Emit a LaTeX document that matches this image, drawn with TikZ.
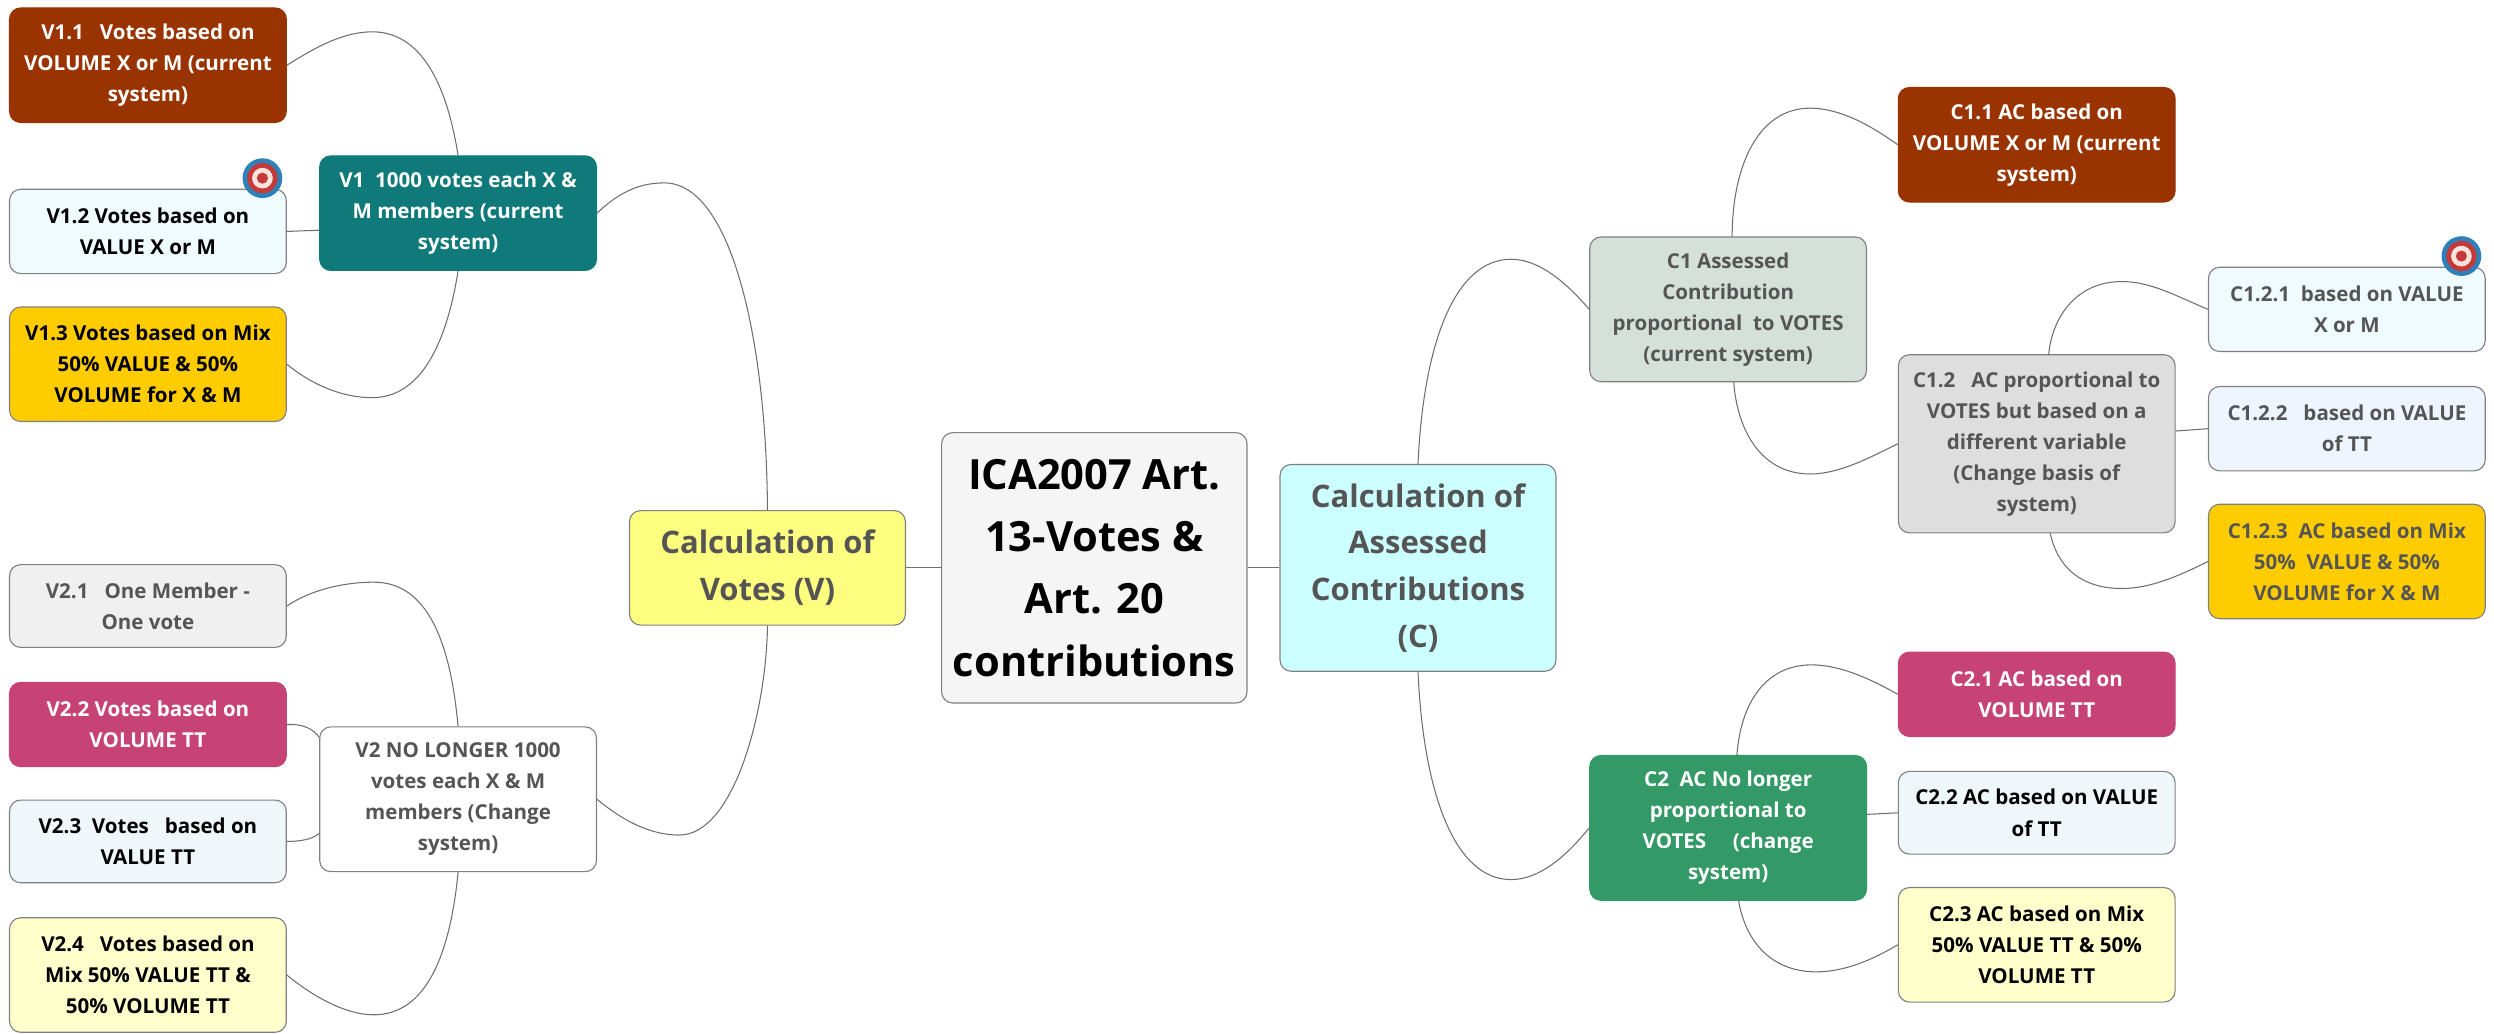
\documentclass[tikz,border=0pt]{standalone}
\usepackage{fontspec}
\setmainfont{Open Sans}
\definecolor{brownbox}{HTML}{993300}
\definecolor{tealbox}{HTML}{107A7A}
\definecolor{pinkbox}{HTML}{C74375}
\definecolor{greenbox}{HTML}{339966}
\definecolor{goldbox}{HTML}{FFCC00}
\definecolor{creambox}{HTML}{FFFFCC}
\definecolor{icebox}{HTML}{F0FBFF}
\definecolor{mistbox}{HTML}{F0F7FA}
\definecolor{paleblue}{HTML}{EEF5FF}
\definecolor{sagebox}{HTML}{D5E0DA}
\definecolor{yellowbox}{HTML}{FDFD80}
\definecolor{cyanbox}{HTML}{CCFFFF}
\definecolor{greytext}{HTML}{555555}
\definecolor{linkgrey}{HTML}{6E6E6E}
\definecolor{edgegrey}{HTML}{808080}
\definecolor{markblue}{HTML}{2F80B8}
\definecolor{markred}{HTML}{C4393A}
\definecolor{markpale}{HTML}{FBE3DC}
\tikzset{
  mapbox/.style={draw=edgegrey, line width=0.8pt, rounded corners=2.8mm, align=center, inner sep=0pt, minimum width=69.6mm, text=#1},
  mapbox/.default=black,
  smallbox/.style={mapbox=#1, font=\bfseries\fontsize{14.7}{22.2}\selectfont},
  smallbox/.default=black,
  midbox/.style={mapbox=greytext, minimum width=69.4mm, font=\bfseries\fontsize{22.2}{33.5}\selectfont},
  link/.style={draw=linkgrey, line width=0.75pt}
}
% small target mark on a box corner
\newcommand{\targetmark}[1]{
  \fill[markblue] (#1) circle (12.5);
  \fill[markred] (#1) circle (9.5);
  \fill[markpale] (#1) circle (6.5);
  \fill[markred] (#1) circle (3.5);
}
\begin{document}
\begin{tikzpicture}[x=0.4mm, y=-0.4mm]
\useasboundingbox (0,0) rectangle (1568,650);
% centre
\node[mapbox, minimum width=76.8mm, minimum height=68mm, fill=black!4, font=\bfseries\fontsize{29.8}{44.5}\selectfont] (root) at (688,357) {ICA2007 Art.\\13-Votes \&\\Art. 20\\contributions};
\node[midbox, minimum height=28.8mm, fill=yellowbox] (votes) at (482.5,357) {Calculation of\\Votes (V)};
\node[midbox, minimum height=52mm, fill=cyanbox] (contrib) at (891.5,357) {Calculation of\\Assessed\\Contributions\\(C)};
% votes side
\node[smallbox=white, minimum height=28.8mm, fill=tealbox, draw=tealbox] (v1) at (288,134) {V1\ \ 1000 votes each X \&\\M members (current\\system)};
\node[smallbox=greytext, minimum height=36.4mm, fill=white] (v2) at (288,502.5) {V2 NO LONGER 1000\\votes each X \& M\\members (Change\\system)};
\node[smallbox=white, minimum height=28.8mm, fill=brownbox, draw=brownbox] (v11) at (93,41) {V1.1\ \ \ Votes based on\\VOLUME X or M (current\\system)};
\node[smallbox, minimum height=21.2mm, fill=icebox] (v12) at (93,145.5) {V1.2 Votes based on\\VALUE X or M};
\node[smallbox, minimum height=28.8mm, fill=goldbox] (v13) at (93,229) {V1.3 Votes based on Mix\\50\% VALUE \& 50\%\\VOLUME for X \& M};
\node[smallbox=greytext, minimum height=20.8mm, fill=black!6] (v21) at (93,381) {V2.1\ \ \ One Member -\\One vote};
\node[smallbox=white, minimum height=21.2mm, fill=pinkbox, draw=pinkbox] (v22) at (93,455.5) {V2.2 Votes based on\\VOLUME TT};
\node[smallbox, minimum height=20.8mm, fill=mistbox] (v23) at (93,529) {V2.3\ \ Votes\ \ \ based on\\VALUE TT};
\node[smallbox, minimum height=28.8mm, fill=creambox] (v24) at (93,613) {V2.4\ \ \ Votes based on\\Mix 50\% VALUE TT \&\\50\% VOLUME TT};
% contributions side
\node[smallbox=greytext, minimum height=36.4mm, fill=sagebox] (c1) at (1086.5,194.5) {C1 Assessed\\Contribution\\proportional\ \ to VOTES\\(current system)};
\node[smallbox=white, minimum height=36.4mm, fill=greenbox, draw=greenbox] (c2) at (1086.5,520.5) {C2\ \ AC No longer\\proportional to\\VOTES\ \ \ \ \ (change\\system)};
\node[smallbox=white, minimum height=28.8mm, fill=brownbox, draw=brownbox] (c11) at (1280.5,91) {C1.1 AC based on\\VOLUME X or M (current\\system)};
\node[smallbox=greytext, minimum height=44.8mm, fill=black!13] (c12) at (1280.5,279) {C1.2\ \ \ AC proportional to\\VOTES but based on a\\different variable\\(Change basis of\\system)};
\node[smallbox=greytext, minimum height=21.2mm, fill=icebox] (c121) at (1475.5,194.5) {C1.2.1\ \ based on VALUE\\X or M};
\node[smallbox=greytext, minimum height=21.2mm, fill=paleblue] (c122) at (1475.5,269.5) {C1.2.2\ \ \ based on VALUE\\of TT};
\node[smallbox=greytext, minimum height=28.8mm, fill=goldbox] (c123) at (1475.5,353) {C1.2.3\ \ AC based on Mix\\50\%\ \ VALUE \& 50\%\\VOLUME for X \& M};
\node[smallbox=white, minimum height=21.2mm, fill=pinkbox, draw=pinkbox] (c21) at (1280.5,436.5) {C2.1 AC based on\\VOLUME TT};
\node[smallbox, minimum height=20.8mm, fill=mistbox] (c22) at (1280.5,511) {C2.2 AC based on VALUE\\of TT};
\node[smallbox, minimum height=28.8mm, fill=creambox] (c23) at (1280.5,594) {C2.3 AC based on Mix\\50\% VALUE TT \& 50\%\\VOLUME TT};
% straight links
\draw[link] (votes.east) -- (root.west);
\draw[link] (root.east) -- (contrib.west);
\draw[link] (v12.east) -- (v1.187);
\draw[link] (c122.west) -- (c12.east |- 0,271);
\draw[link] (c22.west) -- (c2.east |- 0,512);
% curved links
\draw[link] (votes.north) .. controls (482,215) and (460,114) .. (417,115) .. controls (401,115) and (388,122) .. (v1.east);
\draw[link] (votes.south) .. controls (482,445) and (462,525) .. (427,525) .. controls (411,525) and (394,518) .. (v2.east);
\draw[link] (v1.north) .. controls (282,60) and (268,20) .. (234,20) .. controls (214,20) and (195,32) .. (v11.east);
\draw[link] (v1.south) .. controls (282,208) and (268,250) .. (234,250) .. controls (214,250) and (195,241) .. (v13.east);
\draw[link] (v2.north) .. controls (283,402) and (268,366) .. (235,366) .. controls (216,366) and (195,371) .. (v21.east);
\draw[link] (v22.east) .. controls (190,455) and (197,458) .. (v2.156);
\draw[link] (v23.east) .. controls (188,529) and (196,528) .. (v2.west |- 0,524);
\draw[link] (v2.south) .. controls (283,600) and (268,638) .. (235,638) .. controls (216,638) and (195,625) .. (v24.east);
\draw[link] (contrib.north) .. controls (895,215) and (915,163) .. (950,163) .. controls (968,163) and (985,178) .. (c1.west);
\draw[link] (contrib.south) .. controls (895,500) and (915,553) .. (950,553) .. controls (968,553) and (985,538) .. (c2.west);
\draw[link] (1089,149) .. controls (1089,105) and (1105,68) .. (1138,68) .. controls (1156,68) and (1175,78) .. (c11.west);
\draw[link] (1090,240) .. controls (1092,270) and (1107,298) .. (1138,298) .. controls (1156,298) and (1175,288) .. (c12.west);
\draw[link] (1288,223) .. controls (1290,200) and (1305,177) .. (1334,177) .. controls (1352,177) and (1368,186) .. (c121.west);
\draw[link] (1289,335) .. controls (1293,355) and (1307,370) .. (1334,370) .. controls (1352,370) and (1370,362) .. (c123.west);
\draw[link] (1092,475) .. controls (1094,445) and (1108,418) .. (1139,418) .. controls (1158,418) and (1178,428) .. (c21.west);
\draw[link] (1093,566) .. controls (1097,590) and (1112,611) .. (1142,611) .. controls (1160,611) and (1178,603) .. (c23.west);
% marks
\targetmark{165,112}
\targetmark{1547.5,161}
\end{tikzpicture}
\end{document}
